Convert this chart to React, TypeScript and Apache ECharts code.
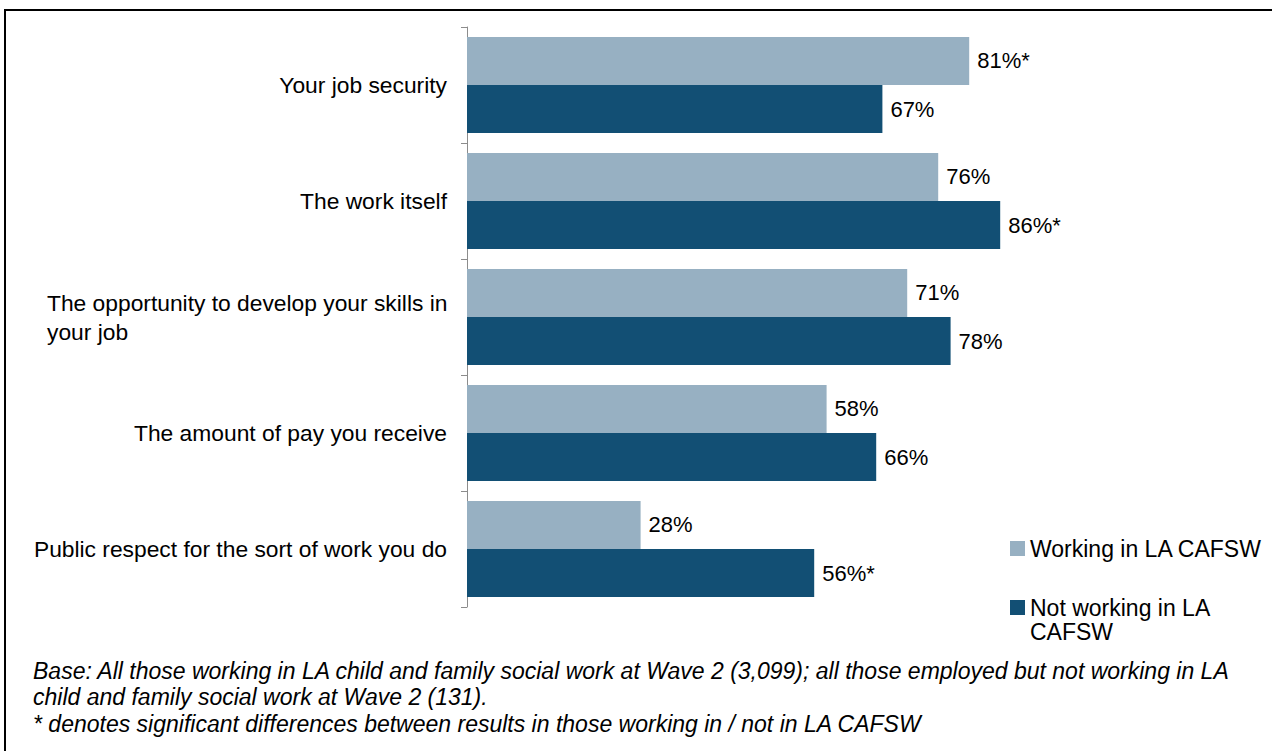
import React, { useEffect, useRef } from "react";
import * as echarts from "echarts";

const categories = [
  "Your job security",
  "The work itself",
  "The opportunity to develop your skills in your job",
  "The amount of pay you receive",
  "Public respect for the sort of work you do",
];
const seriesNames = ["Working in LA CAFSW", "Not working in LA CAFSW"];
const workingValues = [81, 76, 71, 58, 28];
const notWorkingValues = [67, 86, 78, 66, 56];
const workingSig = [true, false, false, false, false];
const notWorkingSig = [false, true, false, false, true];
const footnotes = [
  "Base: All those working in LA child and family social work at Wave 2 (3,099); all those employed but not working in LA",
  "child and family social work at Wave 2 (131).",
  "* denotes significant differences between results in those working in / not in LA CAFSW",
];

const FONT = "'Liberation Sans', Arial, sans-serif";
const LIGHT = "#97B0C2";
const DARK = "#124F74";
const CAT_FS = 22.8;

export default function App() {
  const ref = useRef<HTMLDivElement>(null);
  useEffect(() => {
    if (!ref.current) return;
    const chart = echarts.init(ref.current, undefined, { renderer: "svg" });
    const labelFmt = (sig: boolean[]) => (p: any) =>
      `${p.value}%${sig[p.dataIndex] ? "*" : ""}`;
    chart.setOption({
      animation: false,
      backgroundColor: "#ffffff",
      textStyle: { fontFamily: FONT },
      grid: { left: 467, top: 27, height: 580, right: 185 },
      xAxis: {
        type: "value",
        min: 0,
        max: 100,
        show: false,
      },
      yAxis: {
        type: "category",
        inverse: true,
        data: categories,
        axisLine: { show: true, lineStyle: { color: "#8c8c8c", width: 1 } },
        axisTick: { show: true, length: 6, lineStyle: { color: "#8c8c8c" } },
        axisLabel: {
          margin: 20,
          fontSize: CAT_FS,
          color: "#000",
          fontFamily: FONT,
          lineHeight: 29,
          formatter: (v: string) =>
            v === "The opportunity to develop your skills in your job"
              ? "{l|The opportunity to develop your skills in}\n{l|your job}"
              : v,
          rich: {
            l: { width: 400, align: "left", fontSize: CAT_FS, lineHeight: 29, color: "#000", fontFamily: FONT },
          },
        },
      },
      legend: {
        orient: "vertical",
        left: 1010,
        top: 537,
        padding: 0,
        itemWidth: 15,
        itemHeight: 15,
        itemGap: 36,
        icon: "rect",
        textStyle: { fontSize: 23, color: "#000", fontFamily: FONT },
        formatter: (name: string) => (name === seriesNames[1] ? "Not working in LA" : name),
        data: seriesNames,
      },
      series: [
        {
          name: seriesNames[0],
          type: "bar",
          data: workingValues,
          barGap: "0%",
          barCategoryGap: "17.2%",
          itemStyle: { color: LIGHT },
          label: {
            show: true,
            position: "right",
            distance: 8,
            fontSize: 22,
            color: "#000",
            fontFamily: FONT,
            formatter: labelFmt(workingSig),
          },
        },
        {
          name: seriesNames[1],
          type: "bar",
          data: notWorkingValues,
          barGap: "0%",
          barCategoryGap: "17.2%",
          itemStyle: { color: DARK },
          label: {
            show: true,
            position: "right",
            distance: 8,
            fontSize: 22,
            color: "#000",
            fontFamily: FONT,
            formatter: labelFmt(notWorkingSig),
          },
        },
      ],
      graphic: [
        { type: "line", shape: { x1: 4, y1: 10, x2: 1272, y2: 10 }, style: { stroke: "#000", lineWidth: 2 } },
        { type: "line", shape: { x1: 5, y1: 9, x2: 5, y2: 751 }, style: { stroke: "#000", lineWidth: 2 } },
        {
          type: "text",
          x: 1030,
          y: 632,
          style: { text: "CAFSW", fontSize: 23, fill: "#000", fontFamily: FONT, textVerticalAlign: "middle" },
        },
        ...footnotes.map((t, i) => ({
          type: "text",
          x: 33,
          y: [671, 697, 724][i],
          style: {
            text: t,
            fontSize: 23,
            fontStyle: "italic",
            fill: "#000",
            fontFamily: FONT,
            textVerticalAlign: "middle",
          },
        })),
      ],
    });
    return () => chart.dispose();
  }, []);
  return (
    <div
      ref={ref}
      style={{ position: "absolute", left: 0, top: 0, width: 1272, height: 751 }}
    />
  );
}
